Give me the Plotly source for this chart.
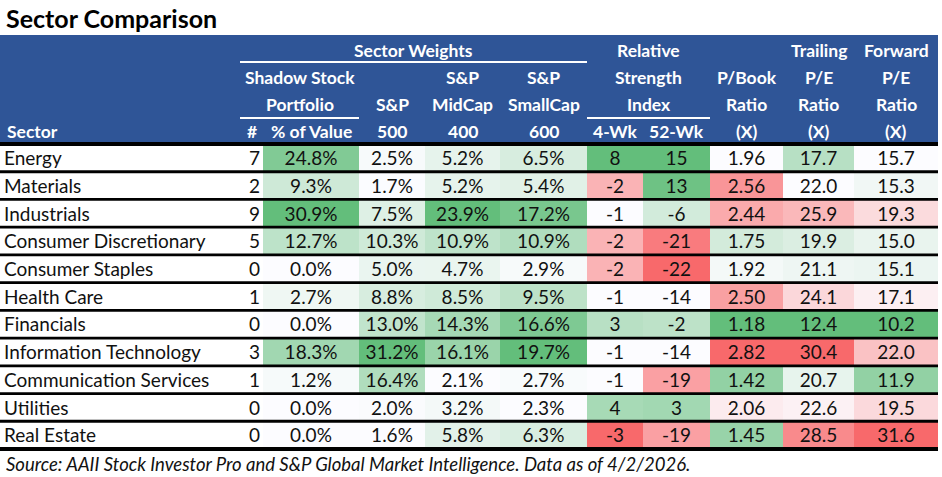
import plotly.graph_objects as go

# ---------------- data ----------------
sectors = ["Energy", "Materials", "Industrials", "Consumer Discretionary", "Consumer Staples",
           "Health Care", "Financials", "Information Technology", "Communication Services",
           "Utilities", "Real Estate"]
shadow_count = [7, 2, 9, 5, 0, 1, 0, 3, 1, 0, 0]
shadow_pct = [24.8, 9.3, 30.9, 12.7, 0.0, 2.7, 0.0, 18.3, 1.2, 0.0, 0.0]
sp500 = [2.5, 1.7, 7.5, 10.3, 5.0, 8.8, 13.0, 31.2, 16.4, 2.0, 1.6]
mid400 = [5.2, 5.2, 23.9, 10.9, 4.7, 8.5, 14.3, 16.1, 2.1, 3.2, 5.8]
small600 = [6.5, 5.4, 17.2, 10.9, 2.9, 9.5, 16.6, 19.7, 2.7, 2.3, 6.3]
rs_4wk = [8, -2, -1, -2, -2, -1, 3, -1, -1, 4, -3]
rs_52wk = [15, 13, -6, -21, -22, -14, -2, -14, -19, 3, -19]
pbook = [1.96, 2.56, 2.44, 1.75, 1.92, 2.50, 1.18, 2.82, 1.42, 2.06, 1.45]
trail_pe = [17.7, 22.0, 25.9, 19.9, 21.1, 24.1, 12.4, 30.4, 20.7, 22.6, 28.5]
fwd_pe = [15.7, 15.3, 19.3, 15.0, 15.1, 17.1, 10.2, 22.0, 11.9, 19.5, 31.6]

title_text = "Sector Comparison"
source_text = "Source: AAII Stock Investor Pro and S&P Global Market Intelligence. Data as of 4/2/2026."

# ---------------- layout constants ----------------
W, H = 942, 477
FONT = "Lato"
BODY_SIZE = 19
BLUE = "#2F5597"
TXT = "#111111"
GREEN, WHITE, RED = "#63BE7B", "#FCFCFF", "#F8696B"
col_widths = [240, 23, 96, 66, 75, 87, 56, 67, 73, 71, 84]   # sector, #, then numeric columns
ROW_TOP, ROW_BOT = 144, 449
HEAD_TOP = 35
TEXT_DROP = 2.5   # px the cell text sits below the row centre
n = len(sectors)
row_h = (ROW_BOT - ROW_TOP) / n

edges = [0]
for w in col_widths:
    edges.append(edges[-1] + w)
centers = [(edges[i] + edges[i + 1]) / 2 for i in range(len(col_widths))]


def median(v):
    s = sorted(v)
    m = len(s) // 2
    return s[m] if len(s) % 2 else (s[m - 1] + s[m]) / 2


def two_color(v):
    lo, hi = min(v), max(v)
    return [(x - lo) / (hi - lo) for x in v]


def three_color(v, reverse=False):
    lo, hi, md = min(v), max(v), median(v)
    out = []
    for x in v:
        s = (x - md) / (hi - md) if x >= md else -(md - x) / (md - lo)
        out.append(-s if reverse else s)
    return out


num_cols = [shadow_pct, sp500, mid400, small600, rs_4wk, rs_52wk, pbook, trail_pe, fwd_pe]
scores = [two_color(shadow_pct), two_color(sp500), two_color(mid400), two_color(small600),
          three_color(rs_4wk), three_color(rs_52wk), three_color(pbook, True),
          three_color(trail_pe, True), three_color(fwd_pe, True)]
fmts = ["{:.1f}%"] * 4 + ["{:d}"] * 2 + ["{:.2f}"] + ["{:.1f}"] * 2

z = [[scores[c][r] for c in range(len(num_cols))] for r in range(n)]

fig = go.Figure()
fig.add_trace(go.Heatmap(
    x=edges[2:], y=sectors, z=z,
    colorscale=[[0, RED], [0.5, WHITE], [1, GREEN]], zmin=-1, zmax=1,
    showscale=False, hoverinfo="skip", xgap=0, ygap=0,
))
tfont = dict(family=FONT, size=BODY_SIZE, color=TXT)
fig.add_trace(go.Scatter(
    x=[edges[0] + 4] * n, y=sectors, mode="text", text=sectors, textposition="middle right",
    textfont=tfont, hoverinfo="skip", showlegend=False, yaxis="y2",
))
fig.add_trace(go.Scatter(
    x=[edges[2] - 3] * n, y=sectors, mode="text", text=[str(c) for c in shadow_count],
    textposition="middle left", textfont=tfont, hoverinfo="skip", showlegend=False, yaxis="y2",
))
for c, col in enumerate(num_cols):
    fig.add_trace(go.Scatter(
        x=[centers[c + 2]] * n, y=sectors, mode="text", text=[fmts[c].format(v) for v in col],
        textposition="middle center", textfont=tfont, hoverinfo="skip", showlegend=False, yaxis="y2",
    ))


def py(px):
    return 1 - px / H


shapes = [dict(type="rect", xref="x", yref="paper", x0=0, x1=edges[-1], y0=py(ROW_TOP), y1=py(HEAD_TOP),
               fillcolor=BLUE, line=dict(width=0), layer="below")]
# white underlines in header
for x0, x1, yy in [(edges[1], edges[6], 62), (edges[1], edges[3], 118), (edges[6], edges[8], 118)]:
    shapes.append(dict(type="line", xref="x", yref="paper", x0=x0, x1=x1, y0=py(yy), y1=py(yy),
                       line=dict(color="white", width=2)))
# horizontal black rules
for i in range(n + 1):
    wdt = 4 if i in (0, n) else 2.8
    shapes.append(dict(type="line", xref="x", yref="y", x0=0, x1=edges[-1], y0=i - 0.5, y1=i - 0.5,
                       line=dict(color="black", width=wdt), layer="above"))

hdr_font = dict(family=FONT, size=17.5, color="white", weight="bold")
rows_y = [50, 77, 105, 132]
span_sw = (edges[1] + edges[6]) / 2
span_ss = (edges[1] + edges[3]) / 2
span_rs = (edges[6] + edges[8]) / 2
header = [
    (0, span_sw, "Sector Weights"), (0, span_rs, "Relative"),
    (0, centers[9], "Trailing"), (0, centers[10], "Forward"),
    (1, span_ss, "Shadow Stock"), (1, centers[4], "S&P"), (1, centers[5], "S&P"),
    (1, span_rs, "Strength"), (1, centers[8], "P/Book"), (1, centers[9], "P/E"),
    (1, centers[10], "P/E"),
    (2, span_ss, "Portfolio"), (2, centers[3], "S&P"), (2, centers[4], "MidCap"),
    (2, centers[5], "SmallCap"), (2, span_rs, "Index"), (2, centers[8], "Ratio"),
    (2, centers[9], "Ratio"), (2, centers[10], "Ratio"),
    (3, centers[1], "#"), (3, centers[2], "% of Value"), (3, centers[3], "500"), (3, centers[4], "400"),
    (3, centers[5], "600"), (3, centers[6], "4-Wk"), (3, centers[7], "52-Wk"), (3, centers[8], "(X)"),
    (3, centers[9], "(X)"), (3, centers[10], "(X)"),
]
ann = []
for r, x, t in header:
    ann.append(dict(x=x, y=py(rows_y[r]), xref="x", yref="paper", text=t, showarrow=False,
                    xanchor="center", yanchor="middle", font=hdr_font))
ann.append(dict(x=5, y=py(rows_y[3]), xref="x", yref="paper", text="Sector", showarrow=False,
                xanchor="left", yanchor="middle", font=hdr_font))
ann.append(dict(x=4, y=py(18), xref="x", yref="paper", text="<b>" + title_text + "</b>", showarrow=False,
                xanchor="left", yanchor="middle", font=dict(family=FONT, size=25, color="black")))
ann.append(dict(x=4, y=py(464), xref="x", yref="paper", text="<i>" + source_text + "</i>", showarrow=False,
                xanchor="left", yanchor="middle", font=dict(family=FONT, size=18.5, color=TXT)))

top = -0.5 - ROW_TOP / row_h
bot = n - 0.5 + (H - ROW_BOT) / row_h
shift = TEXT_DROP / row_h
fig.update_layout(
    width=W, height=H, margin=dict(l=0, r=0, t=0, b=0),
    paper_bgcolor="white", plot_bgcolor="white",
    xaxis=dict(range=[0, W], visible=False, fixedrange=True),
    yaxis=dict(range=[bot, top], visible=False, type="category", categoryorder="array",
               categoryarray=sectors, fixedrange=True),
    yaxis2=dict(range=[bot - shift, top - shift], visible=False, type="category", categoryorder="array",
                categoryarray=sectors, fixedrange=True, overlaying="y"),
    shapes=shapes, annotations=ann, showlegend=False,
)
fig.write_html("out.html", config={"displayModeBar": False},
               post_script="document.body.style.margin='0';document.body.style.overflow='hidden';")
